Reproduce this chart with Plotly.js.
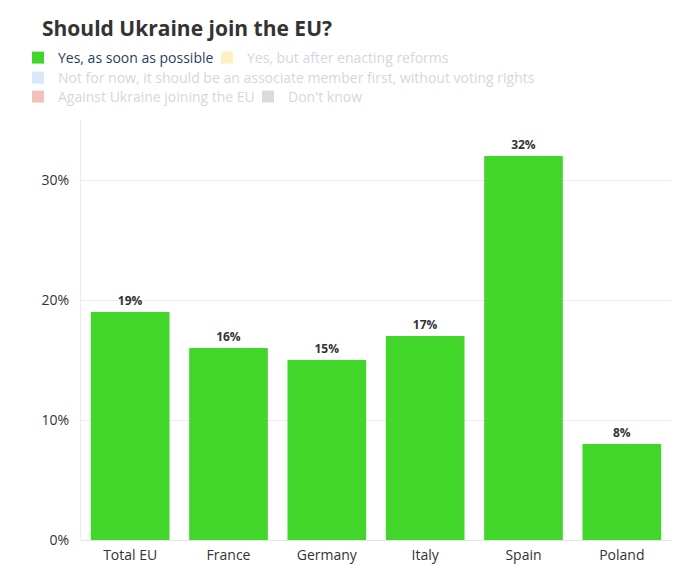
<!DOCTYPE html>
<html>
<head>
<meta charset="utf-8">
<script src="https://cdn.plot.ly/plotly-3.0.1.min.js"></script>
<style>
  html, body { margin: 0; padding: 0; background: #fff; }
  #chart { width: 694px; height: 566px; }
</style>
</head>
<body>
<div id="chart"></div>
<script>
  // Survey answers by country, share of respondents (%)
  var countries = ["Total EU", "France", "Germany", "Italy", "Spain", "Poland"];
  var seriesNames = [
    "Yes, as soon as possible",
    "Yes, but after enacting reforms",
    "Not for now, it should be an associate member first, without voting rights",
    "Against Ukraine joining the EU",
    "Don't know"
  ];
  var seriesColors = ["#41d629", "#fbe589", "#b3d2f0", "#e9857d", "#b9b9b9"];
  var yesAsap = [19, 16, 15, 17, 32, 8];
  // the other answers are switched off in the legend; their values are not shown
  var hiddenValues = [null, null, null, null, null, null];
  var yTicks = [0, 10, 20, 30];
  var yTickText = ["0%", "10%", "20%", "30%"];

  var FONT = "'Open Sans', 'Noto Sans', sans-serif";
  var PLOT_L = 81, PLOT_W = 590, PLOT_B = 540, PLOT_H = 420;

  // one legend per entry so the rows wrap like the original
  // [legend id, text start x (px), row centre y (px)]
  var legendSpots = [
    ["legend", 58, 57],
    ["legend2", 247, 57],
    ["legend3", 58, 77],
    ["legend4", 58, 96],
    ["legend5", 288, 96]
  ];

  var traces = seriesNames.map(function (name, i) {
    var t = {
      type: "bar",
      name: name,
      x: countries,
      y: i === 0 ? yesAsap : hiddenValues,
      marker: { color: seriesColors[i] },
      legend: legendSpots[i][0],
      hoverinfo: "x+y+name"
    };
    if (i === 0) {
      t.texttemplate = "<b>%{y}%</b>";
      t.textposition = "outside";
      t.textfont = { family: FONT, size: 12, color: "#333" };
      t.cliponaxis = false;
    } else {
      t.visible = "legendonly";
    }
    return t;
  });

  var layout = {
    width: 694,
    height: 566,
    paper_bgcolor: "#fff",
    plot_bgcolor: "#fff",
    font: { family: FONT, size: 14, color: "#333" },
    margin: { l: PLOT_L, r: 694 - PLOT_L - PLOT_W, t: PLOT_B - PLOT_H, b: 566 - PLOT_B },
    bargap: 0.2,
    barmode: "group",
    showlegend: true,
    title: {
      text: "<b>Should Ukraine join the EU?</b>",
      font: { family: FONT, size: 21, color: "#333" },
      x: 42 / 694,
      xanchor: "left",
      xref: "container",
      y: 1 - 29 / 566,
      yanchor: "middle",
      yref: "container"
    },
    xaxis: {
      tickfont: { family: FONT, size: 14, color: "#333" },
      showgrid: false,
      showline: false,
      ticks: "",
      ticklabelstandoff: 5
    },
    yaxis: {
      range: [0, 35],
      tickmode: "array",
      tickvals: yTicks,
      ticktext: yTickText,
      tickfont: { family: FONT, size: 14, color: "#333" },
      gridcolor: "#ececec",
      zeroline: true,
      zerolinecolor: "#e4e4e4",
      showline: true,
      linecolor: "#ececec",
      ticks: "",
      ticklabelstandoff: 8
    }
  };

  legendSpots.forEach(function (spot, i) {
    layout[spot[0]] = {
      orientation: "h",
      x: (spot[1] - 40 - PLOT_L) / PLOT_W,
      xanchor: "left",
      y: (PLOT_B - (spot[2] - 15)) / PLOT_H,
      yanchor: "top",
      font: { family: FONT, size: 14, color: i === 0 ? "#2a3f5f" : "#a7b1c1" },
      itemwidth: 30,
      bgcolor: "rgba(0,0,0,0)"
    };
  });

  Plotly.newPlot("chart", traces, layout, { displayModeBar: false, staticPlot: true });
</script>
</body>
</html>
